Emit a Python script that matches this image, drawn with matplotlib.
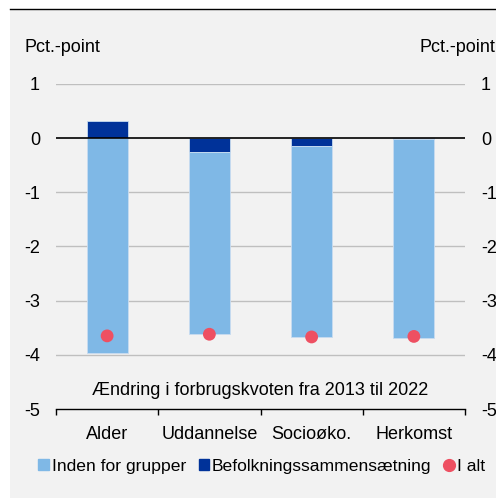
import matplotlib
matplotlib.use("Agg")
import matplotlib.pyplot as plt
from matplotlib.patches import Rectangle
from matplotlib.lines import Line2D
import numpy as np

plt.rcParams['font.family'] = ['Liberation Sans', 'DejaVu Sans']

categories = ["Alder", "Uddannelse", "Socioøko.", "Herkomst"]
inden = [-3.96, -3.36, -3.52, -3.67]
befolk = [0.31, -0.25, -0.15, -0.01]
i_alt = [-3.65, -3.62, -3.67, -3.66]
yticks = [1, 0, -1, -2, -3, -4, -5]

c_light = "#7FB8E6"
c_dark = "#003299"
c_red = "#EE5062"
bg = "#F2F2F2"
FS = 13

fig = plt.figure(figsize=(4.96, 4.98), dpi=100)
fig.patch.set_facecolor("white")
fig.patches.append(Rectangle((10/496, 0), 1, 1 - 9/498, transform=fig.transFigure,
                             facecolor=bg, edgecolor="none", zorder=-10))
fig.lines.append(Line2D([10/496, 1], [1 - 9/498, 1 - 9/498], transform=fig.transFigure,
                        color="black", lw=1.0))

ax = fig.add_axes([56/496, 1 - 409/498, 409/496, (409 - 84)/498])
ax.set_facecolor(bg)
x = np.arange(len(categories))
w = 0.4
inden_a = np.array(inden)
bef_a = np.array(befolk)
bef_bottom = np.zeros(len(x))
inden_bottom = np.where((bef_a < 0) & (inden_a < 0), bef_a, 0.0)
ax.bar(x, bef_a, w, bottom=bef_bottom, color=c_dark, edgecolor="#C8DCF0", linewidth=0.6, zorder=3)
ax.bar(x, inden_a, w, bottom=inden_bottom, color=c_light, edgecolor="#C8DCF0", linewidth=0.6, zorder=3)
ax.scatter(x, i_alt, s=85, color=c_red, zorder=5, edgecolors="none")

ax.set_xlim(-0.5, len(x) - 0.5)
ax.set_ylim(-5, 1)
for y in [1, -1, -2, -3, -4]:
    ax.axhline(y, color="#BFBFBF", lw=1.0, zorder=1)
ax.axhline(0, color="black", lw=1.2, zorder=4)

for s in ["left", "right", "top"]:
    ax.spines[s].set_visible(False)
ax.spines["bottom"].set_linewidth(1.0)

ax.set_yticks(yticks)
ax.set_yticklabels([str(v) for v in yticks])
ax.tick_params(axis="y", length=0, labelsize=FS, left=True, right=True,
               labelleft=True, labelright=True, pad=11.5)
ax.set_xticks(x)
ax.set_xticklabels(categories)
ax.tick_params(axis="x", length=0, labelsize=FS, pad=12)
ax.set_xticks(np.arange(-0.5, len(x)), minor=True)
ax.tick_params(axis="x", which="minor", length=4, width=1.0, direction="out")

ax.text(1.5, -4.66, "Ændring i forbrugskvoten fra 2013 til 2022",
        fontsize=FS, ha="center", va="center")

fig.text(24/496, 1 - 48/498, "Pct.-point", fontsize=FS, ha="left", va="center")
fig.text(495/496, 1 - 48/498, "Pct.-point", fontsize=FS, ha="right", va="center")

handles = [Rectangle((0, 0), 1, 1, color=c_light),
           Rectangle((0, 0), 1, 1, color=c_dark),
           Line2D([], [], marker="o", ls="none", color=c_red, markersize=8.5)]
fig.legend(handles, ["Inden for grupper", "Befolkningssammensætning", "I alt"],
           loc="center", bbox_to_anchor=(0.528, 1 - 466/498), ncol=3, frameon=False,
           fontsize=12.6, handlelength=0.62, handleheight=0.62, handletextpad=0.15,
           columnspacing=0.7, borderaxespad=0, borderpad=0)

fig.savefig("out.png", dpi=100, facecolor=fig.get_facecolor())
